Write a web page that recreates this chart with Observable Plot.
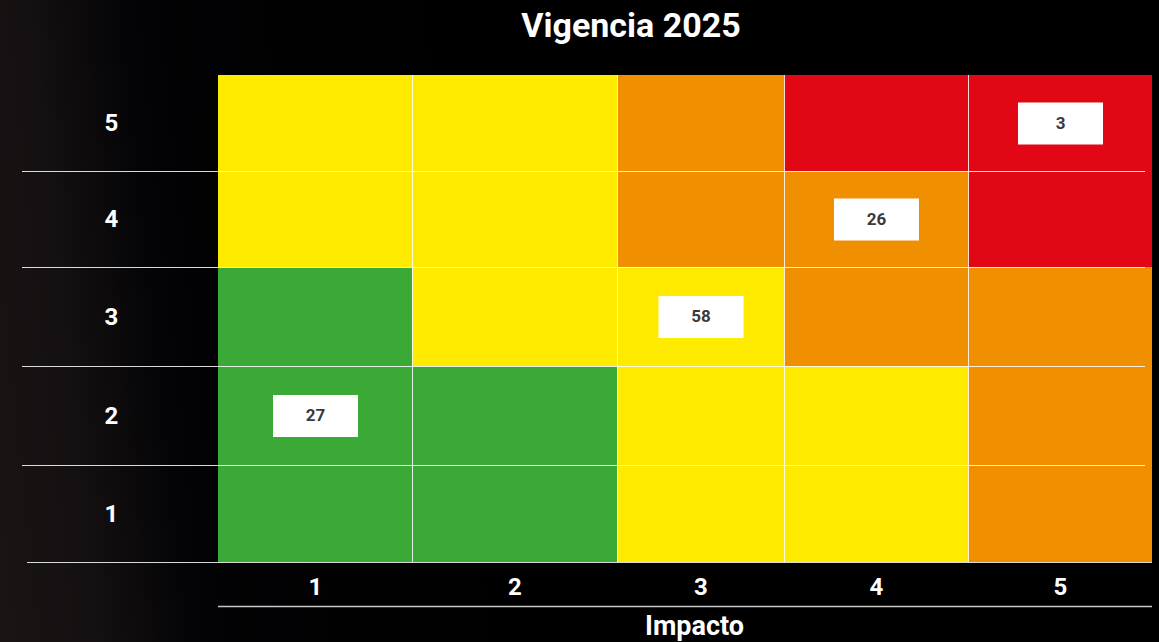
<!DOCTYPE html>
<html>
<head>
<meta charset="utf-8">
<script src="https://cdn.jsdelivr.net/npm/d3@7"></script>
<script src="https://cdn.jsdelivr.net/npm/@observablehq/plot@0.6"></script>
<style>
  html, body { margin: 0; padding: 0; }
  body {
    width: 1159px; height: 642px; overflow: hidden;
    background: linear-gradient(84deg, #1a1414 0%, #151011 8%, #0c0a0b 12%, #050407 15%, #020204 19%, #000 40%);
    font-family: Roboto, "DejaVu Sans", sans-serif;
  }
  #title {
    position: relative; height: 50px; line-height: 50px;
  }
  #title span {
    position: absolute; left: 631px; transform: translateX(-50%);
    color: #fff; font-weight: 700; font-size: 34px; white-space: nowrap;
  }
  #chart svg { display: block; }
</style>
</head>
<body>
<div id="title"><span>Vigencia 2025</span></div>
<div id="chart"></div>
<script>
// ---- data ----
const impactLevels = [1, 2, 3, 4, 5];          // Impacto (columns)
const probabilityLevels = [1, 2, 3, 4, 5];     // Probabilidad (rows)
const zoneNames = ["Bajo", "Moderado", "Alto", "Extremo"];
const zoneColors = ["#3aa935", "#ffeb00", "#f08f00", "#e10714"];
// risk zone per row (probability 1..5), columns impact 1..5
const zonesProb1 = ["Bajo", "Bajo", "Moderado", "Moderado", "Alto"];
const zonesProb2 = ["Bajo", "Bajo", "Moderado", "Moderado", "Alto"];
const zonesProb3 = ["Bajo", "Moderado", "Moderado", "Alto", "Alto"];
const zonesProb4 = ["Moderado", "Moderado", "Alto", "Alto", "Extremo"];
const zonesProb5 = ["Moderado", "Moderado", "Alto", "Extremo", "Extremo"];
// counts of risks
const countImpact = [1, 3, 4, 5];
const countProbability = [2, 3, 4, 5];
const countValues = [27, 58, 26, 3];

// ---- build tables ----
const zoneRows = [zonesProb1, zonesProb2, zonesProb3, zonesProb4, zonesProb5];
const cells = [];
probabilityLevels.forEach((p, i) => {
  impactLevels.forEach((im, j) => cells.push({impact: im, prob: p, zone: zoneRows[i][j]}));
});
const counts = countValues.map((v, i) => ({impact: countImpact[i], prob: countProbability[i], count: v}));

const boxSymbol = {draw(ctx) { ctx.moveTo(-42.5, -21); ctx.lineTo(42.5, -21); ctx.lineTo(42.5, 21); ctx.lineTo(-42.5, 21); ctx.closePath(); }};

const bounds = [0.5, 1.5, 2.5, 3.5, 4.5, 5.5];
const inner = [1.5, 2.5, 3.5, 4.5];

const chart = Plot.plot({
  width: 1159,
  height: 592,
  marginLeft: 218,
  marginRight: 7,
  marginTop: 25,
  marginBottom: 80,
  style: {background: "transparent", color: "white", fontFamily: "Roboto, 'DejaVu Sans', sans-serif", fontSize: "24px", fontWeight: "bold"},
  x: {type: "linear", domain: bounds, range: [218, 412, 617, 784, 968, 1152], label: null},
  y: {type: "linear", domain: bounds, range: [512, 415, 316, 217, 121, 25], label: null},
  color: {domain: zoneNames, range: zoneColors},
  marks: [
    Plot.rect(cells, {x1: d => d.impact - 0.5, x2: d => d.impact + 0.5, y1: d => d.prob - 0.5, y2: d => d.prob + 0.5, fill: "zone"}),
    Plot.ruleX(inner, {stroke: "white", strokeOpacity: 0.85, strokeWidth: 1}),
    Plot.ruleY(inner, {stroke: "white", strokeOpacity: 0.85, strokeWidth: 1, insetLeft: -196, insetRight: 7}),
    Plot.ruleY([0.5], {stroke: "white", strokeOpacity: 0.85, strokeWidth: 1.2, insetLeft: -191}),
    Plot.ruleY([0.5], {dy: 44, stroke: "#c8c8c8", strokeWidth: 1.5}),
    Plot.dot(counts, {x: "impact", y: "prob", symbol: boxSymbol, r: 10, fill: "white", stroke: "none"}),
    Plot.text(counts, {x: "impact", y: "prob", text: d => String(d.count), fill: "#3a3a3c", fontSize: 17, fontWeight: "bold"}),
    Plot.axisX({ticks: impactLevels, tickFormat: d => String(d), tickSize: 0, tickPadding: 15, fontSize: 24, label: null}),
    Plot.axisY({ticks: probabilityLevels, tickFormat: d => String(d), tickSize: 0, tickPadding: 107, textAnchor: "middle", fontSize: 24, label: null}),
    Plot.text(["Impacto"], {frameAnchor: "bottom", dx: 9, dy: 53, lineAnchor: "top", fill: "white", fontSize: 27, fontWeight: "bold"})
  ]
});
document.getElementById("chart").appendChild(chart);
</script>
</body>
</html>
